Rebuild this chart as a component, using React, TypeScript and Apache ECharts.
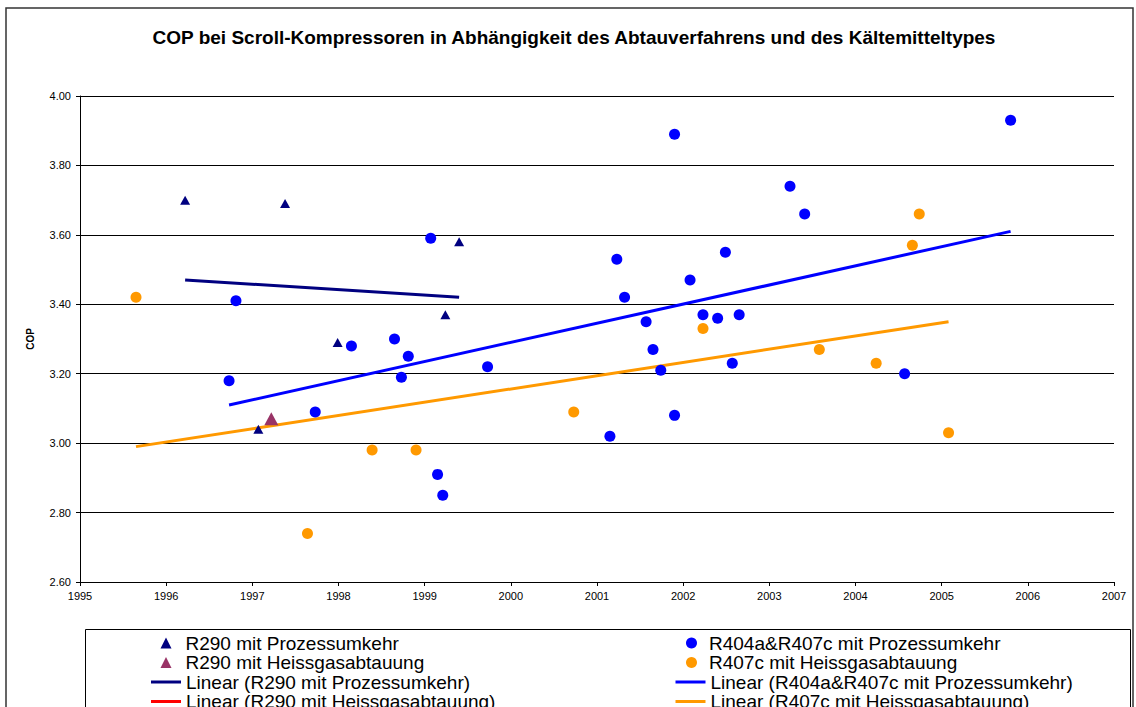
import React, { useEffect, useRef } from "react";
import * as echarts from "echarts";

const titleText = "COP bei Scroll-Kompressoren in Abhängigkeit des Abtauverfahrens und des Kältemitteltypes";
const yAxisName = "COP";

const r290ProzName = "R290 mit Prozessumkehr";
const r290ProzX = [1996.22, 1997.38, 1997.07, 1997.99, 1999.24, 1999.40];
const r290ProzY = [3.70, 3.69, 3.04, 3.29, 3.37, 3.58];

const r290HeissName = "R290 mit Heissgasabtauung";
const r290HeissX = [1997.22];
const r290HeissY = [3.07];

const r404Name = "R404a&R407c mit Prozessumkehr";
const r404X = [1996.73, 1996.81, 1997.73, 1998.15, 1998.65, 1998.73, 1998.81, 1999.07, 1999.15, 1999.21, 1999.73, 2001.15, 2001.23, 2001.32, 2001.57, 2001.65, 2001.74, 2001.90, 2001.90, 2002.08, 2002.23, 2002.40, 2002.49, 2002.57, 2002.65, 2003.24, 2003.41, 2004.57, 2005.80];
const r404Y = [3.18, 3.41, 3.09, 3.28, 3.30, 3.19, 3.25, 3.59, 2.91, 2.85, 3.22, 3.02, 3.53, 3.42, 3.35, 3.27, 3.21, 3.89, 3.08, 3.47, 3.37, 3.36, 3.55, 3.23, 3.37, 3.74, 3.66, 3.20, 3.93];

const r407Name = "R407c mit Heissgasabtauung";
const r407X = [1995.65, 1997.64, 1998.39, 1998.90, 2000.73, 2002.23, 2003.58, 2004.24, 2004.66, 2004.74, 2005.08];
const r407Y = [3.42, 2.74, 2.98, 2.98, 3.09, 3.33, 3.27, 3.23, 3.57, 3.66, 3.03];

const trendR290ProzX = [1996.22, 1999.40];
const trendR290ProzY = [3.47, 3.42];
const trendR290HeissX = [1997.22];
const trendR290HeissY = [3.07];
const trendR404X = [1996.73, 2005.80];
const trendR404Y = [3.11, 3.61];
const trendR407X = [1995.65, 2005.08];
const trendR407Y = [2.99, 3.35];

const xMin = 1995;
const xMax = 2007;
const yMin = 2.6;
const yMax = 4.0;

const zip = (xs: number[], ys: number[]) => xs.map((x, i) => [x, ys[i]]);
const lin = (n: string) => "Linear (" + n + ")";
const FONT = "'Liberation Sans', Arial, sans-serif";

export default function App() {
  const ref = useRef<HTMLDivElement>(null);
  useEffect(() => {
    if (!ref.current) return;
    const chart = echarts.init(ref.current, undefined, { renderer: "svg" });
    const txt = (padLeft: number) => ({
      fontFamily: FONT,
      fontSize: 19,
      color: "#000",
      lineHeight: 19,
      padding: [0, 0, 0, padLeft],
    });
    const markerLegend = (left: number, padLeft: number, names: string[]) => ({
      orient: "vertical",
      left,
      top: 633.5,
      height: 100,
      padding: 0,
      itemWidth: 11,
      itemHeight: 11,
      itemGap: 0.5,
      textStyle: txt(padLeft),
      data: names,
    });
    const lineLegend = (left: number, names: string[]) => ({
      orient: "vertical",
      left,
      top: 672.5,
      height: 100,
      padding: 0,
      itemWidth: 30,
      itemHeight: 3,
      itemGap: 0.5,
      textStyle: txt(0),
      data: names.map((n) => ({ name: n, icon: "rect" })),
    });
    chart.setOption({
      animation: false,
      backgroundColor: "#fff",
      textStyle: { fontFamily: FONT },
      title: {
        text: titleText,
        left: 569,
        textAlign: "center",
        top: 23,
        textStyle: { fontFamily: FONT, fontSize: 19, fontWeight: "bold", color: "#000" },
      },
      graphic: [
        {
          type: "rect",
          shape: { x: 6, y: 8, width: 1127, height: 720 },
          style: { fill: "none", stroke: "#333", lineWidth: 1.5 },
          silent: true,
          z: -1,
        },
        {
          type: "rect",
          shape: { x: 85.5, y: 629.5, width: 1045, height: 100 },
          style: { fill: "none", stroke: "#000", lineWidth: 1 },
          silent: true,
          z: -1,
        },
      ],
      legend: [
        markerLegend(160.5, 9, [r290ProzName, r290HeissName]),
        lineLegend(151, [lin(r290ProzName), lin(r290HeissName)]),
        markerLegend(686, 7, [r404Name, r407Name]),
        lineLegend(675.5, [lin(r404Name), lin(r407Name)]),
      ],
      grid: { left: 80, right: 22, top: 96, bottom: 125, containLabel: false },
      xAxis: {
        type: "value",
        min: xMin,
        max: xMax,
        interval: 1,
        axisLine: { show: true, lineStyle: { color: "#000", width: 1 } },
        axisTick: { show: true, inside: false, length: 4, lineStyle: { color: "#000" } },
        axisLabel: { color: "#000", fontSize: 11, fontFamily: FONT, margin: 8, formatter: (v: number) => String(v) },
        splitLine: { show: false },
      },
      yAxis: {
        type: "value",
        min: yMin,
        max: yMax,
        interval: 0.2,
        name: yAxisName,
        nameLocation: "middle",
        nameRotate: 90,
        nameGap: 45,
        nameTextStyle: { color: "#000", fontSize: 10, fontWeight: "bold", fontFamily: FONT },
        axisLine: { show: true, lineStyle: { color: "#000", width: 1 } },
        axisTick: { show: true, inside: false, length: 4, lineStyle: { color: "#000" } },
        axisLabel: { color: "#000", fontSize: 11, fontFamily: FONT, margin: 9, formatter: (v: number) => v.toFixed(2) },
        splitLine: { show: true, lineStyle: { color: "#000", width: 1 } },
      },
      series: [
        {
          name: lin(r290ProzName),
          type: "line",
          data: zip(trendR290ProzX, trendR290ProzY),
          symbol: "none",
          lineStyle: { color: "#000080", width: 3 },
          itemStyle: { color: "#000080" },
          z: 1,
        },
        {
          name: lin(r290HeissName),
          type: "line",
          data: zip(trendR290HeissX, trendR290HeissY),
          symbol: "none",
          lineStyle: { color: "#FF0000", width: 3 },
          itemStyle: { color: "#FF0000" },
          z: 1,
        },
        {
          name: lin(r404Name),
          type: "line",
          data: zip(trendR404X, trendR404Y),
          symbol: "none",
          lineStyle: { color: "#0000FF", width: 3 },
          itemStyle: { color: "#0000FF" },
          z: 1,
        },
        {
          name: lin(r407Name),
          type: "line",
          data: zip(trendR407X, trendR407Y),
          symbol: "none",
          lineStyle: { color: "#FF9900", width: 3 },
          itemStyle: { color: "#FF9900" },
          z: 1,
        },
        {
          name: r290ProzName,
          type: "scatter",
          data: zip(r290ProzX, r290ProzY),
          symbol: "triangle",
          symbolSize: [10, 9],
          itemStyle: { color: "#000080", opacity: 1 },
          z: 3,
        },
        {
          name: r290HeissName,
          type: "scatter",
          data: zip(r290HeissX, r290HeissY),
          symbol: "triangle",
          symbolSize: [14, 13],
          itemStyle: { color: "#993366", opacity: 1 },
          z: 3,
        },
        {
          name: r404Name,
          type: "scatter",
          data: zip(r404X, r404Y),
          symbol: "circle",
          symbolSize: 11,
          itemStyle: { color: "#0000FF", opacity: 1 },
          z: 3,
        },
        {
          name: r407Name,
          type: "scatter",
          data: zip(r407X, r407Y),
          symbol: "circle",
          symbolSize: 11,
          itemStyle: { color: "#FF9900", opacity: 1 },
          z: 3,
        },
      ],
    });
    return () => chart.dispose();
  }, []);
  return (
    <div
      ref={ref}
      style={{ position: "absolute", left: 0, top: 0, width: 1136, height: 707, background: "#fff" }}
    />
  );
}
